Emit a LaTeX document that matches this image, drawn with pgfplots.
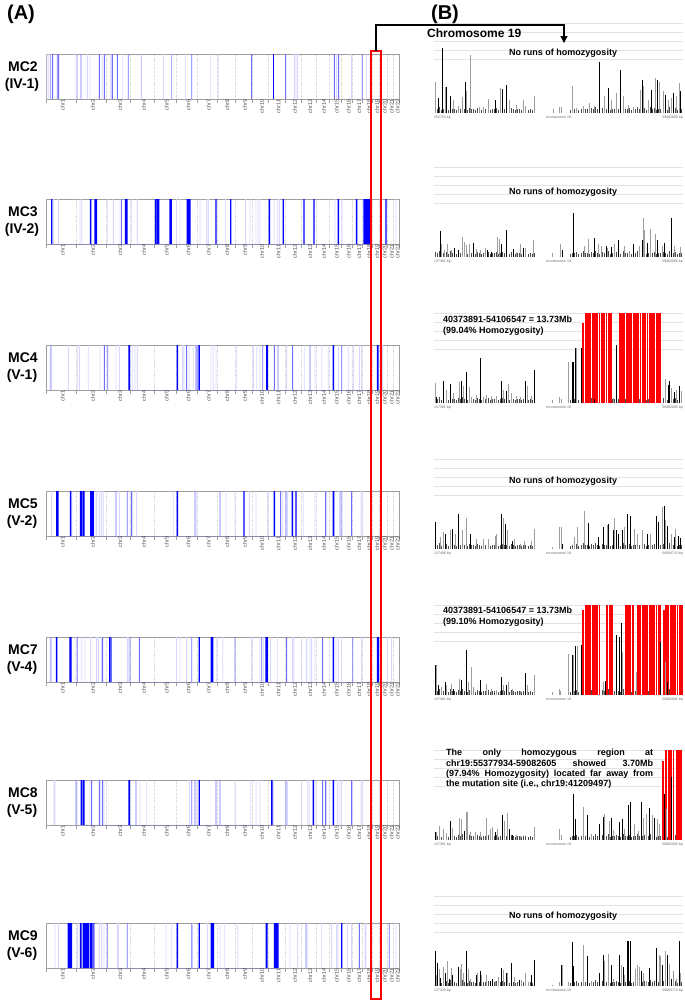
\documentclass[border=0pt]{standalone}
\usepackage{fontspec}
\setmainfont{Liberation Sans}
\usepackage{pgfplots}
\usepackage{pgfplotstable}
\pgfplotsset{compat=1.18}
\usetikzlibrary{arrows.meta}

\definecolor{roh}{RGB}{0,0,255}
\definecolor{rohmed}{RGB}{110,110,255}
\definecolor{rohlt}{RGB}{175,175,255}
\definecolor{rohft}{RGB}{215,215,255}

% shared low-level background of small SNP bars on chr19 (Mb, relative height)
\pgfplotstableread{
x h
0.3 .06
0.8 .04
1.3 .07
1.8 .03
2.3 .05
2.8 .06
3.3 .03
3.8 .07
4.3 .04
4.8 .05
5.3 .03
5.8 .06
6.3 .04
6.8 .07
7.3 .05
7.8 .03
8.3 .06
8.8 .04
9.3 .05
9.8 .03
10.3 .06
10.8 .04
11.3 .03
11.8 .05
12.3 .04
12.8 .06
13.3 .03
13.8 .05
14.3 .04
14.8 .06
15.3 .03
15.8 .05
16.3 .06
16.8 .04
17.3 .05
17.8 .03
18.3 .06
18.8 .04
19.3 .03
19.8 .05
20.3 .04
20.8 .03
21.3 .05
21.8 .04
22.3 .03
22.8 .05
23.3 .03
23.8 .04
32.4 .03
32.9 .05
33.4 .04
33.9 .06
34.4 .03
34.9 .05
35.4 .07
35.9 .04
36.4 .05
36.9 .03
37.4 .06
37.9 .04
38.4 .07
38.9 .05
39.4 .03
39.9 .06
40.4 .04
40.9 .05
41.4 .07
41.9 .03
42.4 .05
42.9 .04
43.4 .06
43.9 .05
44.4 .03
44.9 .07
45.4 .04
45.9 .05
46.4 .06
46.9 .03
47.4 .05
47.9 .04
48.4 .07
48.9 .05
49.4 .04
49.9 .06
50.4 .03
50.9 .05
51.4 .07
51.9 .04
52.4 .06
52.9 .03
53.4 .05
53.9 .04
54.4 .06
54.9 .05
55.4 .03
55.9 .07
56.4 .04
56.9 .05
57.4 .06
57.9 .03
58.4 .05
58.9 .04
}\floortab

\pgfplotsset{
  garow/.style={
    at={(46pt,-#1pt)}, anchor=north west,
    width=353.3pt, height=45pt, scale only axis,
    xmin=0, xmax=2880.85, ymin=0, ymax=1,
    axis line style={gray!75, line width=0.6pt},
    xtick={124.6,370.9,591.5,786.0,972.1,1148.1,1313.2,1465.9,1609.7,1748.1,1883.3,2017.7,2142.3,2253.5,2358.5,2454.9,2540.7,2620.3,2688.9,2750.0,2805.5,2855.2},
    xticklabels={chr1,chr2,chr3,chr4,chr5,chr6,chr7,chr8,chr9,chr10,chr11,chr12,chr13,chr14,chr15,chr16,chr17,chr18,chr19,chr20,chr21,chr22},
    minor xtick={0,249.25,492.45,690.45,881.6,1062.5,1233.6,1392.7,1539.1,1680.3,1815.8,1950.8,2084.65,2199.85,2307.2,2409.7,2500.05,2581.25,2659.35,2718.45,2781.45,2829.55,2880.85},
    xminorgrids, minor x grid style={dash pattern=on 1.2pt off 1.2pt, gray!35, line width=0.4pt},
    major tick length=0pt, minor tick length=4pt, xtick align=outside, xtick pos=left,
    ytick=\empty,
    minor tick style={gray!75, line width=0.5pt},
    xticklabel style={rotate=90, anchor=east, font=\fontsize{5.5}{6}\selectfont, text=black!70, inner sep=0.5pt, yshift=-1.5pt},
  },
  bft/.style={ybar, bar width=7, bar shift=0pt, fill=rohft, draw=none, no marks},
  blt/.style={ybar, bar width=7, bar shift=0pt, fill=rohlt, draw=none, no marks},
  bmed/.style={ybar, bar width=7, bar shift=0pt, fill=rohmed, draw=none, no marks},
  bsol/.style={ybar, bar width=11, bar shift=0pt, fill=roh, draw=none, no marks},
  bblk/.style={fill=roh, draw=none, no marks},
  chrax/.style={
    at={(434pt,-#1pt)}, anchor=north west,
    width=249pt, height=90pt, scale only axis,
    xmin=0, xmax=59.2, ymin=0, ymax=1,
    axis line style={draw=none}, xtick=\empty,
    ytick={0.6,0.7,0.8,0.9,1}, yticklabels={},
    ymajorgrids, major grid style={gray!22, line width=0.6pt},
    major tick length=0pt, clip=false,
  },
  kbar/.style={ycomb, no marks, draw=black, line width=0.7pt},
  gbar/.style={ycomb, no marks, draw=black!38, line width=0.7pt},
  fbar/.style={ycomb, no marks, draw=black!70, line width=0.55pt},
  rbar/.style={ycomb, no marks, draw=red, line width=1.9pt},
}

\newcommand{\bplabels}[2]{%
  \node[anchor=north west, font=\fontsize{3.5}{4}\selectfont, text=black!60, inner sep=0pt] at (axis cs:0,0) [yshift=-3pt] {#1};
  \node[anchor=north, font=\fontsize{3.5}{4}\selectfont, text=black!60, inner sep=0pt] at (axis cs:29.6,0) [yshift=-3pt] {chromosome 19};
  \node[anchor=north east, font=\fontsize{3.5}{4}\selectfont, text=black!60, inner sep=0pt] at (axis cs:59.2,0) [yshift=-3pt] {#2};
}

\begin{document}
\begin{tikzpicture}
\useasboundingbox (0,0) rectangle (685pt,-1002pt);

% ---------------- panel A: genome-wide homozygosity ----------------
% MC2
\begin{axis}[garow=54]
\addplot[bft] coordinates {(8,1)(22,1)(245,1)(337,1)(359,1)(459,1)(622,1)(957,1)(1136,1)(1343,1)(1405,1)(2025,1)(2039,1)(2052,1)(2370,1)(2492,1)(2615,1)(2642,1)};
\addplot[blt] coordinates {(38,1)(255,1)(530,1)(777,1)(1024,1)};
\addplot[bmed] coordinates {(54,1)(92,1)(103,1)(285,1)(435,1)(476,1)(541,1)(582,1)(671,1)(1188,1)(1677,1)(1954,1)(2351,1)(2386,1)(2579,1)};
\addplot[bblk] coordinates {(1851,0)(1851,1)(1862,1)(1862,0)};
\end{axis}
% MC3
\begin{axis}[garow=199]
\addplot[bft] coordinates {(60,1)(101,1)(277,1)(291,1)(500,1)(549,1)(603,1)(699,1)(745,1)(1065,1)(1093,1)(1256,1)(1310,1)(1324,1)(1462,1)(1628,1)(1663,1)(1712,1)(1731,1)(1745,1)(1859,1)(1886,1)(1903,1)(2357,1)(2414,1)(2854,1)};
\addplot[bmed] coordinates {(617,1)};
\addplot[bsol] coordinates {(364,1)(894,1)(1386,1)(1506,1)(1821,1)(1935,1)(2104,1)(2185,1)(2384,1)(2533,1)(2772,1)};
\addplot[bblk] coordinates {(42,0)(42,1)(51,1)(51,0)(394,0)(394,1)(416,1)(416,0)(644,0)(644,1)(666,1)(666,0)(900,0)(900,1)(924,1)(924,0)(1006,0)(1006,1)(1027,1)(1027,0)(1147,0)(1147,1)(1180,1)(1180,0)(2588,0)(2588,1)(2650,1)(2650,0)};
\end{axis}
% MC4
\begin{axis}[garow=345]
\addplot[bft] coordinates {(33,1)(182,1)(255,1)(272,1)(345,1)(440,1)(571,1)(598,1)(707,1)(726,1)(745,1)(1114,1)(1125,1)(1166,1)(1201,1)(1345,1)(1364,1)(1386,1)(1555,1)(1691,1)(1718,1)(1745,1)(1962,1)(2106,1)(2193,1)(2248,1)(2302,1)(2384,1)(2465,1)(2506,1)(2555,1)(2574,1)(2745,1)};
\addplot[blt] coordinates {(1222,1)(1228,1)(1234,1)};
\addplot[bmed] coordinates {(41,1)(476,1)(503,1)(1147,1)(1242,1)(1767,1)(1862,1)(1892,1)(2011,1)(2153,1)(2411,1)};
\addplot[bsol] coordinates {(1071,1)(1250,1)(2343,1)};
\addplot[bblk] coordinates {(671,0)(671,1)(685,1)(685,0)(1794,0)(1794,1)(1810,1)(1810,0)(2698,0)(2698,1)(2713,1)(2713,0)};
\end{axis}
% MC5
\begin{axis}[garow=491]
\addplot[bft] coordinates {(46,1)(212,1)(400,1)(413,1)(435,1)(454,1)(467,1)(598,1)(685,1)(707,1)(739,1)(1038,1)(1229,1)(1468,1)(1541,1)(1658,1)(1712,1)(1807,1)(1930,1)(1968,1)(2098,1)(2193,1)(2289,1)(2392,1)(2416,1)(2569,1)(2579,1)};
\addplot[bmed] coordinates {(571,1)(663,1)(698,1)(1215,1)(1419,1)(1913,1)(1957,1)(2280,1)(2405,1)(2492,1)};
\addplot[bsol] coordinates {(201,1)(1071,1)(1614,1)(1862,1)(2009,1)(2039,1)};
\addplot[bblk] coordinates {(82,0)(82,1)(103,1)(103,0)(277,0)(277,1)(294,1)(294,0)(299,0)(299,1)(315,1)(315,0)(359,0)(359,1)(391,1)(391,0)(2337,0)(2337,1)(2352,1)(2352,0)};
\end{axis}
% MC7
\begin{axis}[garow=637]
\addplot[bft] coordinates {(33,1)(245,1)(291,1)(318,1)(364,1)(413,1)(427,1)(454,1)(663,1)(671,1)(1065,1)(1093,1)(1147,1)(1392,1)(1441,1)(1677,1)(1745,1)(1772,1)(1832,1)(1886,1)(2011,1)(2022,1)(2085,1)(2125,1)(2153,1)(2166,1)(2193,1)(2365,1)(2384,1)(2411,1)(2574,1)(2783,1)(2818,1)};
\addplot[bmed] coordinates {(41,1)(255,1)(462,1)(533,1)(685,1)(761,1)(1188,1)(1541,1)(1759,1)(1962,1)(2256,1)(2501,1)};
\addplot[bsol] coordinates {(87,1)(1250,1)(2343,1)};
\addplot[bblk] coordinates {(190,0)(190,1)(209,1)(209,0)(514,0)(514,1)(527,1)(527,0)(1343,0)(1343,1)(1364,1)(1364,0)(1788,0)(1788,1)(1810,1)(1810,0)(2698,0)(2698,1)(2716,1)(2716,0)};
\end{axis}
% MC8
\begin{axis}[garow=780]
\addplot[bft] coordinates {(65,1)(73,1)(255,1)(359,1)(446,1)(473,1)(766,1)(821,1)(1169,1)(1229,1)(1541,1)(1669,1)(1712,1)(1745,1)(1854,1)(1968,1)(2085,1)(2134,1)(2147,1)(2201,1)(2289,1)(2378,1)(2397,1)(2411,1)(2501,1)(2569,1)(2579,1)(2723,1)};
\addplot[blt] coordinates {(298,1)};
\addplot[bmed] coordinates {(245,1)(372,1)(435,1)(462,1)(734,1)(1188,1)(1215,1)(1386,1)(1419,1)(1957,1)(2256,1)(2280,1)(2492,1)};
\addplot[bsol] coordinates {(1250,1)(2180,1)(2343,1)};
\addplot[bblk] coordinates {(283,0)(283,1)(295,1)(295,0)(301,0)(301,1)(315,1)(315,0)(671,0)(671,1)(685,1)(685,0)(1835,0)(1835,1)(1848,1)(1848,0)};
\end{axis}
% MC9
\begin{axis}[garow=923]
\addplot[bft] coordinates {(73,1)(101,1)(258,1)(435,1)(454,1)(473,1)(582,1)(590,1)(978,1)(1025,1)(1196,1)(1316,1)(1419,1)(1454,1)(1563,1)(1990,1)(2052,1)(2134,1)(2248,1)(2329,1)(2370,1)(2381,1)(2457,1)(2492,1)(2601,1)(2609,1)(2854,1)};
\addplot[bmed] coordinates {(500,1)(663,1)(1188,1)(2120,1)(2555,1)(2799,1)};
\addplot[bsol] coordinates {(1071,1)(1250,1)(2411,1)};
\addplot[bblk] coordinates {(177,0)(177,1)(212,1)(212,0)(277,0)(277,1)(291,1)(291,0)(299,0)(299,1)(353,1)(353,0)(359,0)(359,1)(381,1)(381,0)(386,0)(386,1)(394,1)(394,0)(1343,0)(1343,1)(1370,1)(1370,0)(1791,0)(1791,1)(1807,1)(1807,0)(1859,0)(1859,1)(1897,1)(1897,0)};
\end{axis}

% ---------------- panel B: chromosome 19 ----------------
% MC2
\begin{axis}[chrax=23]
\addplot[fbar] table[x=x, y=h] {\floortab};
\addplot[gbar] coordinates {(0.24,0.34)(2.61,0.29)(4.59,0.15)(5.77,0.08)(6.80,0.18)(7.75,0.24)(8.54,0.65)(10.76,0.07)(11.71,0.07)(12.89,0.16)(15.82,0.28)(18.03,0.15)(19.62,0.09)(21.36,0.14)(21.83,0.08)(23.97,0.19)(28.32,0.04)(29.90,0.07)(30.30,0.07)(32.91,0.30)(33.85,0.06)(35.44,0.08)(37.02,0.11)(38.21,0.08)(40.58,0.19)(42.16,0.15)(43.35,0.22)(44.93,0.19)(46.12,0.09)(47.30,0.07)(49.12,0.26)(49.83,0.30)(50.86,0.15)(52.68,0.39)(53.63,0.35)(54.42,0.24)(55.61,0.15)(56.40,0.17)(57.58,0.19)(58.38,0.33)};
\addplot[kbar] coordinates {(1.03,0.17)(2.06,0.72)(2.85,0.29)(3.80,0.19)(7.44,0.34)(14.48,0.15)(16.14,0.27)(17.24,0.31)(39.23,0.57)(41.37,0.28)(44.38,0.48)(49.52,0.37)(51.65,0.26)(53.00,0.37)(55.05,0.20)(56.95,0.22)(58.61,0.24)};
\bplabels{252753 bp}{59092600 bp}
\end{axis}
% MC3
\begin{axis}[chrax=167]
\addplot[fbar] table[x=x, y=h] {\floortab};
\addplot[gbar] coordinates {(1.82,0.14)(2.45,0.08)(3.24,0.14)(4.03,0.08)(6.72,0.22)(7.20,0.17)(7.75,0.13)(8.38,0.14)(10.12,0.09)(10.92,0.08)(12.10,0.10)(15.10,0.22)(15.43,0.20)(19.62,0.06)(20.64,0.14)(21.75,0.10)(23.57,0.19)(28.16,0.04)(30.14,0.14)(35.67,0.12)(36.62,0.20)(39.15,0.15)(39.78,0.12)(41.21,0.10)(42.79,0.14)(45.17,0.12)(46.51,0.07)(48.88,0.12)(49.67,0.43)(50.07,0.30)(51.49,0.31)(52.60,0.26)(54.18,0.12)(57.03,0.12)(58.61,0.11)};
\addplot[kbar] coordinates {(1.42,0.29)(4.82,0.10)(5.77,0.08)(9.33,0.16)(12.74,0.08)(13.68,0.06)(15.90,0.14)(17.24,0.30)(18.83,0.09)(21.20,0.10)(30.46,0.08)(33.06,0.49)(38.05,0.21)(40.97,0.12)(42.16,0.11)(43.74,0.19)(47.30,0.14)(49.44,0.19)(50.70,0.16)(53.08,0.19)(54.66,0.16)(56.40,0.43)};
\bplabels{137381 bp}{59082605 bp}
\end{axis}
% MC4
\begin{axis}[chrax=313]
\addplot[fbar] table[x=x, y=h] {\floortab};
\addplot[rbar] coordinates {(35.5,0.89)(36.05,1)(36.6,1)(37.15,1)(37.7,1)(38.25,1)(38.8,1)(39.35,1)(39.9,1)(40.45,1)(41.0,1)(41.55,1)(42.1,1)(44.15,1)(44.7,1)(45.25,1)(45.8,1)(46.35,1)(46.9,1)(47.45,1)(48.0,1)(48.55,1)(49.1,1)(49.65,1)(50.2,1)(50.75,1)(51.3,1)(51.85,1)(52.4,1)(52.95,1)(53.5,1)(53.75,1)};
\addplot[gbar] coordinates {(0.24,0.22)(3.01,0.15)(4.59,0.11)(6.01,0.23)(6.96,0.19)(8.38,0.18)(8.94,0.07)(10.12,0.09)(11.71,0.07)(12.50,0.09)(13.68,0.08)(14.71,0.08)(16.45,0.15)(17.64,0.21)(18.43,0.11)(19.62,0.08)(20.41,0.07)(22.15,0.19)(23.18,0.08)(28.16,0.03)(29.90,0.07)(30.30,0.04)(31.88,0.46)(33.85,0.61)(42.56,0.06)(55.05,0.27)(56.40,0.17)(57.58,0.15)(58.77,0.13)};
\addplot[kbar] coordinates {(0.63,0.07)(2.21,0.25)(3.96,0.21)(6.57,0.24)(7.75,0.34)(11.07,0.50)(16.06,0.24)(17.09,0.13)(21.83,0.25)(23.97,0.37)(32.91,0.46)(33.22,0.46)(33.54,0.61)(35.04,0.61)(38.21,0.04)(43.35,0.65)(55.61,0.20)(56.00,0.24)(57.19,0.12)(58.38,0.19)};
\bplabels{137381 bp}{59082605 bp}
\end{axis}
% MC5
\begin{axis}[chrax=459]
\addplot[fbar] table[x=x, y=h] {\floortab};
\addplot[gbar] coordinates {(1.42,0.13)(2.21,0.19)(3.80,0.21)(4.98,0.17)(6.72,0.21)(7.75,0.34)(10.12,0.11)(11.71,0.11)(12.89,0.11)(14.48,0.15)(14.88,0.17)(16.45,0.34)(17.48,0.21)(19.22,0.11)(20.41,0.06)(21.44,0.09)(23.18,0.09)(23.81,0.22)(28.16,0.02)(29.90,0.24)(30.30,0.24)(33.30,0.13)(34.09,0.24)(35.67,0.42)(41.21,0.27)(42.79,0.34)(45.17,0.24)(47.54,0.22)(48.33,0.17)(49.44,0.21)(51.49,0.17)(54.18,0.47)(54.97,0.32)(56.40,0.17)(57.35,0.22)};
\addplot[kbar] coordinates {(0.24,0.30)(2.77,0.17)(4.35,0.22)(5.77,0.39)(8.54,0.17)(15.90,0.39)(16.85,0.28)(18.59,0.09)(30.46,0.06)(36.62,0.29)(39.00,0.13)(40.18,0.25)(41.53,0.28)(42.56,0.21)(43.35,0.21)(43.90,0.17)(44.69,0.21)(45.96,0.39)(46.75,0.37)(50.70,0.17)(52.84,0.37)(53.24,0.30)(54.66,0.48)(55.45,0.26)(57.03,0.13)(58.14,0.15)(58.61,0.12)};
\bplabels{137498 bp}{59093713 bp}
\end{axis}
% MC7
\begin{axis}[chrax=605]
\addplot[fbar] table[x=x, y=h] {\floortab};
\addplot[rbar] coordinates {(35.5,0.94)(36.05,1)(36.6,1)(37.15,1)(37.7,1)(38.25,1)(38.8,1)(39.35,1)(41.2,1)(41.75,1)(42.3,1)(45.6,1)(46.15,1)(46.7,1)(47.25,1)(48.5,1)(49.05,1)(49.6,1)(50.15,1)(50.7,1)(51.25,1)(51.8,1)(52.35,1)(52.9,1)(53.45,1)(53.75,1)(54.6,0.94)(55.15,1)(55.7,1)(56.25,1)(56.8,1)(57.35,1)(57.9,1)(58.45,1)(58.95,1)};
\addplot[gbar] coordinates {(0.63,0.33)(1.82,0.09)(3.01,0.11)(4.19,0.12)(6.01,0.18)(8.15,0.15)(8.94,0.31)(9.33,0.09)(12.50,0.12)(13.68,0.07)(14.71,0.06)(16.45,0.11)(17.64,0.15)(18.67,0.07)(20.41,0.04)(22.15,0.11)(23.97,0.22)(28.16,0.03)(29.74,0.07)(30.06,0.04)(31.88,0.46)(33.22,0.45)(34.01,0.54)(40.18,0.15)(44.77,0.48)(48.09,0.26)(55.05,0.37)};
\addplot[kbar] coordinates {(0.24,0.33)(1.03,0.11)(2.61,0.15)(4.59,0.07)(6.57,0.17)(7.59,0.50)(10.92,0.17)(15.90,0.20)(17.09,0.11)(21.83,0.24)(32.91,0.45)(33.70,0.54)(35.04,0.56)(40.66,0.16)(43.35,0.67)(43.98,0.65)(44.45,0.80)(53.79,0.59)(55.37,0.15)};
\bplabels{137381 bp}{59082605 bp}
\end{axis}
% MC8
\begin{axis}[chrax=750]
\addplot[fbar] table[x=x, y=h] {\floortab};
\addplot[rbar] coordinates {(54.55,0.88)(55.05,1)(55.85,1)(56.35,1)(56.95,1)(57.7,1)(58.25,1)(58.8,1)};
\addplot[gbar] coordinates {(0.63,0.09)(1.27,0.16)(2.21,0.12)(2.85,0.08)(4.43,0.13)(6.01,0.24)(6.57,0.23)(7.75,0.31)(7.99,0.31)(8.54,0.09)(9.73,0.09)(10.92,0.09)(12.50,0.25)(13.29,0.12)(13.92,0.15)(15.11,0.12)(16.61,0.21)(17.40,0.30)(19.62,0.06)(20.41,0.05)(23.97,0.15)(29.74,0.12)(30.30,0.06)(35.44,0.37)(37.41,0.07)(40.58,0.29)(41.61,0.21)(42.71,0.11)(45.32,0.12)(47.70,0.18)(48.49,0.10)(49.67,0.25)(50.47,0.29)(51.89,0.28)(53.00,0.23)(53.47,0.18)(55.21,0.35)};
\addplot[kbar] coordinates {(0.24,0.09)(3.80,0.21)(7.20,0.10)(14.48,0.09)(16.29,0.28)(17.88,0.12)(18.67,0.06)(33.22,0.51)(33.54,0.23)(36.39,0.28)(39.23,0.18)(40.18,0.26)(42.16,0.25)(44.14,0.20)(44.77,0.23)(46.12,0.39)(46.67,0.42)(49.28,0.42)(51.26,0.36)(52.44,0.25)(54.82,0.51)(56.40,0.70)};
\bplabels{137381 bp}{59082605 bp}
\end{axis}
% MC9
\begin{axis}[chrax=896]
\addplot[fbar] table[x=x, y=h] {\floortab};
\addplot[gbar] coordinates {(0.63,0.12)(1.27,0.19)(2.21,0.21)(3.16,0.28)(4.19,0.20)(6.17,0.19)(6.57,0.24)(6.96,0.15)(8.15,0.19)(8.54,0.08)(10.28,0.14)(11.31,0.12)(12.34,0.12)(14.48,0.06)(15.27,0.10)(16.45,0.18)(17.40,0.15)(19.22,0.10)(20.80,0.07)(21.83,0.15)(22.39,0.04)(28.16,0.01)(29.74,0.05)(30.53,0.23)(31.88,0.04)(35.44,0.46)(37.41,0.06)(40.58,0.28)(41.37,0.36)(42.71,0.08)(44.53,0.23)(45.32,0.12)(47.93,0.19)(48.25,0.23)(48.73,0.21)(49.83,0.15)(50.47,0.06)(53.47,0.35)(53.79,0.33)(55.05,0.39)(55.84,0.24)(56.95,0.17)(57.58,0.08)(58.53,0.14)};
\addplot[kbar] coordinates {(0.24,0.39)(0.87,0.26)(1.58,0.09)(2.61,0.15)(3.64,0.08)(4.43,0.12)(5.77,0.21)(7.75,0.39)(9.97,0.12)(10.92,0.17)(13.29,0.06)(13.92,0.08)(16.06,0.20)(17.09,0.14)(18.43,0.26)(20.25,0.07)(23.18,0.12)(23.97,0.29)(30.30,0.23)(32.91,0.49)(33.22,0.22)(36.39,0.33)(39.23,0.15)(40.18,0.34)(42.16,0.23)(43.98,0.34)(44.93,0.21)(45.88,0.50)(46.12,0.50)(46.67,0.50)(49.28,0.17)(51.10,0.20)(52.84,0.42)(54.26,0.23)(55.37,0.34)(56.40,0.08)(58.22,0.50)};
\bplabels{137329 bp}{59093713 bp}
\end{axis}

% ---------------- text and frame ----------------
\node[font=\bfseries\fontsize{20}{22}\selectfont] at (21pt,-14pt) {(A)};
\node[font=\bfseries\fontsize{20}{22}\selectfont] at (445pt,-14pt) {(B)};
\node[font=\bfseries\fontsize{12}{14}\selectfont, anchor=west, inner sep=0pt] at (427pt,-33pt) {Chromosome 19};

\foreach \yy/\nm/\id in {54/MC2/IV-1,199/MC3/IV-2,345/MC4/V-1,491/MC5/V-2,637/MC7/V-4,780/MC8/V-5,923/MC9/V-6}{
  \node[font=\bfseries\fontsize{14}{16}\selectfont] at (23pt,-\yy pt-13pt) {\nm};
  \node[font=\bfseries\fontsize{14}{16}\selectfont] at (22pt,-\yy pt-31pt) {(\id)};
}

\foreach \yy in {53,192,481,916}{
  \node[font=\bfseries\fontsize{9}{11}\selectfont] at (563pt,-\yy pt) {No runs of homozygosity};
}

\node[font=\bfseries\fontsize{9}{11}\selectfont, anchor=west, inner sep=0pt] at (443pt,-319pt) {40373891-54106547 = 13.73Mb};
\node[font=\bfseries\fontsize{9}{11}\selectfont, anchor=west, inner sep=0pt] at (443pt,-331pt) {(99.04\% Homozygosity)};
\node[font=\bfseries\fontsize{9}{11}\selectfont, anchor=west, inner sep=0pt] at (443pt,-610pt) {40373891-54106547 = 13.73Mb};
\node[font=\bfseries\fontsize{9}{11}\selectfont, anchor=west, inner sep=0pt] at (443pt,-622pt) {(99.10\% Homozygosity)};

\begin{scope}[every node/.style={font=\bfseries\fontsize{9}{11}\selectfont, anchor=west, inner sep=0pt}]
\node at (446pt,-753pt) {\makebox[207pt][s]{The only homozygous region at}};
\node at (446pt,-763.5pt) {\makebox[207pt][s]{chr19:55377934-59082605 showed 3.70Mb}};
\node at (446pt,-774pt) {\makebox[207pt][s]{(97.94\% Homozygosity) located far away from}};
\node at (446pt,-784.5pt) {the mutation site (i.e., chr19:41209497)};
\end{scope}

\draw[red, line width=1.2pt] (371pt,-51pt) rectangle (381pt,-999pt);
\draw[line width=1.3pt, line join=miter, -{Triangle[length=7pt,width=7pt]}] (376pt,-51pt) |- (564pt,-25pt) -- (564pt,-43pt);
\end{tikzpicture}
\end{document}
